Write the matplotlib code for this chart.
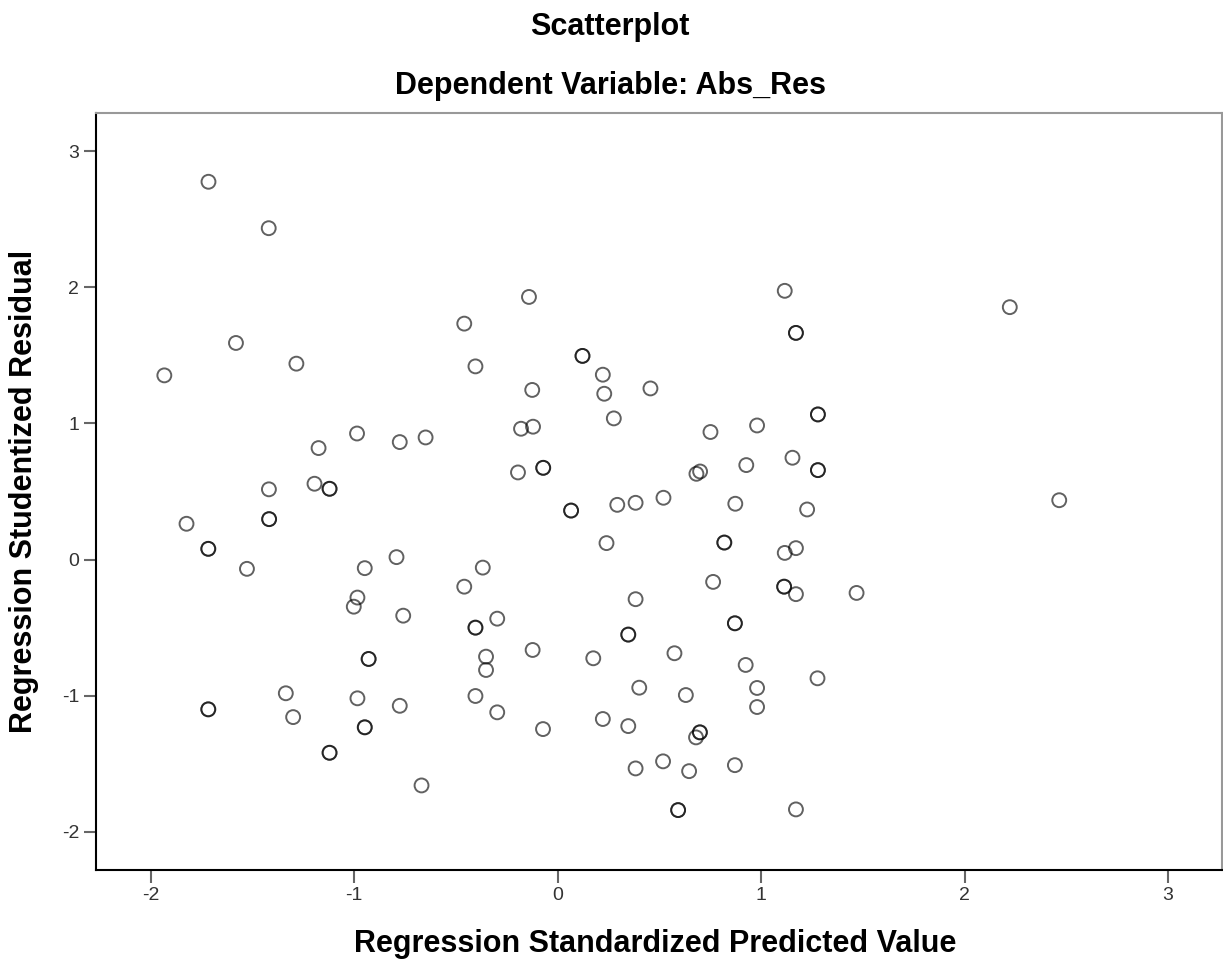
import matplotlib
matplotlib.use('Agg')
import matplotlib.pyplot as plt

# Regression Standardized Predicted Value (x) / Studentized Residual (y)
# darker circles in the original are overlapping cases, so they appear twice
pred = [
    -1.716, -1.420, -0.141, 1.116, -0.459, 1.171, 1.171, -1.581, 0.122, 0.122,
    -1.284, -1.933, -0.404, 0.222, -0.125, 0.229, 0.456, 0.276, -0.180, -0.121,
    -0.986, -0.776, -0.649, -1.175, 0.751, 0.980, 1.279, 1.279, -0.195, -0.071,
    -0.071, 0.682, 0.700, 0.927, 1.154, 1.279, 1.279, -1.419, -1.195, -1.121,
    -1.121, 0.066, 0.066, 0.293, 0.383, 0.520, 0.873, 1.226, 2.222, 2.465,
    -1.824, -1.418, -1.418, -1.717, -1.717, -1.527, -0.948, -0.792, -0.368, -0.459,
    -0.984, -1.002, -0.759, -0.404, -0.404, -0.297, -0.123, -0.929, -0.929, -0.352,
    -0.352, -1.336, -0.984, -0.776, -0.404, -0.297, -0.072, -1.717, -1.717, -1.300,
    -0.948, -0.948, -1.121, -1.121, -0.669, 0.240, 0.819, 0.819, 1.116, 1.171,
    0.383, 0.764, 1.113, 1.113, 1.171, 1.469, 0.347, 0.347, 0.871, 0.871,
    0.175, 0.574, 0.924, 1.277, 0.401, 0.630, 0.980, 0.980, 0.222, 0.347,
    0.699, 0.699, 0.680, 0.383, 0.518, 0.646, 0.871, 0.592, 0.592, 1.171,
]
resid = [
    2.775, 2.434, 1.929, 1.974, 1.733, 1.665, 1.665, 1.591, 1.496, 1.496,
    1.439, 1.353, 1.419, 1.358, 1.246, 1.218, 1.257, 1.037, 0.961, 0.976,
    0.926, 0.863, 0.897, 0.819, 0.937, 0.985, 1.066, 1.066, 0.640, 0.674,
    0.674, 0.630, 0.647, 0.694, 0.748, 0.657, 0.657, 0.516, 0.557, 0.520,
    0.520, 0.360, 0.360, 0.402, 0.417, 0.454, 0.410, 0.368, 1.854, 0.436,
    0.263, 0.297, 0.297, 0.079, 0.079, -0.068, -0.063, 0.018, -0.059, -0.199,
    -0.279, -0.346, -0.412, -0.500, -0.500, -0.434, -0.664, -0.730, -0.730, -0.713,
    -0.811, -0.982, -1.019, -1.074, -1.002, -1.122, -1.245, -1.100, -1.100, -1.157,
    -1.232, -1.232, -1.419, -1.419, -1.659, 0.121, 0.125, 0.125, 0.049, 0.084,
    -0.291, -0.164, -0.199, -0.199, -0.254, -0.245, -0.551, -0.551, -0.468, -0.468,
    -0.725, -0.688, -0.774, -0.872, -0.941, -0.995, -0.943, -1.083, -1.171, -1.223,
    -1.269, -1.269, -1.306, -1.534, -1.482, -1.554, -1.510, -1.840, -1.840, -1.835,
]

x_ticks = [-2, -1, 0, 1, 2, 3]
y_ticks = [-2, -1, 0, 1, 2, 3]
x_labels = ['-2', '-1', '0', '1', '2', '3']
y_labels = ['-2', '-1', '0', '1', '2', '3']

plt.rcParams['font.family'] = ['Liberation Sans', 'DejaVu Sans']

fig = plt.figure(figsize=(12.23, 9.61), dpi=100)
ax = fig.add_axes([0.0783, 0.0947, 0.9209, 0.7877])

ax.scatter(pred, resid, s=100, facecolors='none',
           edgecolors=(0, 0, 0, 0.62), linewidths=1.4)

ax.set_xlim(-2.27, 3.265)
ax.set_ylim(-2.28, 3.28)
ax.set_xticks(x_ticks)
ax.set_xticklabels(x_labels)
ax.set_yticks(y_ticks)
ax.set_yticklabels(y_labels)
ax.tick_params(direction='out', length=9, width=1.5, color='#666666',
               labelsize=14, labelcolor='#333333', pad=3)

for side in ['left', 'bottom']:
    ax.spines[side].set_color('black')
    ax.spines[side].set_linewidth(1.5)
for side in ['top', 'right']:
    ax.spines[side].set_color('#999999')
    ax.spines[side].set_linewidth(1.5)

ax.set_xlabel('Regression Standardized Predicted Value', fontsize=22,
              fontweight='bold', va='center')
ax.set_ylabel('Regression Studentized Residual', fontsize=22,
              fontweight='bold', va='center')
ax.xaxis.set_label_coords(0.497, -0.098)
ax.yaxis.set_label_coords(-0.064, 0.5)

fig.text(0.499, 1 - 27 / 961, 'Scatterplot', ha='center', va='center',
         fontsize=22, fontweight='bold')
fig.text(0.499, 1 - 86 / 961, 'Dependent Variable: Abs_Res', ha='center',
         va='center', fontsize=22, fontweight='bold')

fig.savefig('out.png', dpi=100)
plt.close(fig)
